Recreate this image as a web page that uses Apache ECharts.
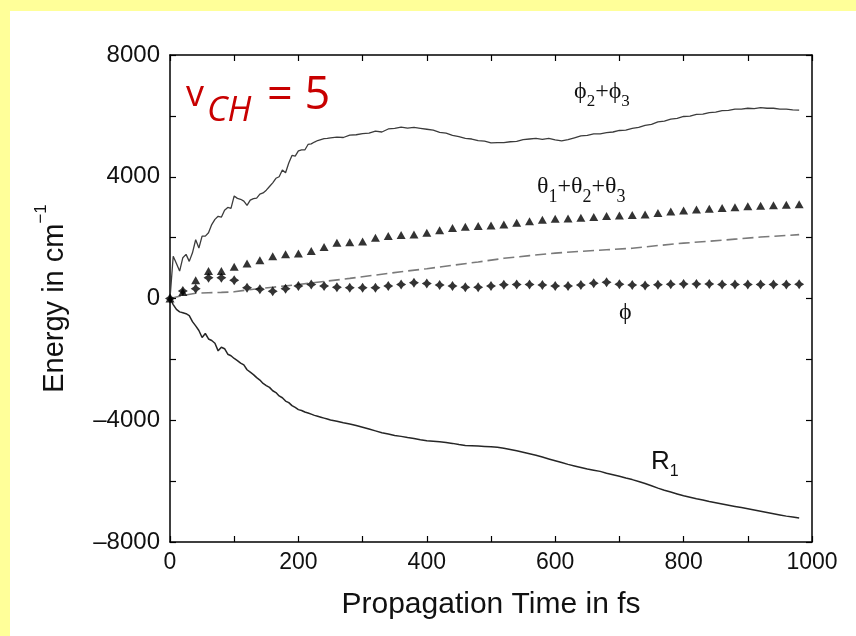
<!DOCTYPE html>
<html><head><meta charset="utf-8">
<script src="https://cdn.jsdelivr.net/npm/echarts@6/dist/echarts.min.js"></script>
<style>
html,body{margin:0;padding:0;background:#ffff99;overflow:hidden;}
#bg{position:absolute;left:10px;top:11px;right:0;bottom:0;background:#ffffff;}
#chart{position:absolute;left:0;top:0;width:856px;height:636px;}
</style></head><body><div id="bg"></div><div id="chart"></div>
<script>
// time grid shared by the two solid curves (fs)
const lineTimes = [0,5,10,15,20,25,30,35,40,45,50,55,60,65,70,75,80,85,90,95,100,105,110,115,120,125,130,135,140,145,150,155,160,165,170,175,180,185,190,195,200,205,210,215,220,225,230,235,240,245,250,
260,270,280,290,300,310,320,330,340,350,360,370,380,390,400,410,420,430,440,450,460,470,480,490,500,510,520,530,540,550,560,570,580,590,600,610,620,630,640,650,660,670,680,690,700,710,720,730,740,750,760,770,780,790,800,810,820,830,840,850,860,870,880,890,900,910,920,930,940,950,960,970,980];
// phi2+phi3 (cm^-1)
const phiSumValues = [0,1390,1150,900,1340,1450,1220,1500,1930,1660,2050,2050,2160,2430,2600,2700,2670,2900,2990,2960,3370,3290,3260,3200,3060,3230,3280,3300,3430,3470,3560,3680,3800,3950,4000,4220,4130,4450,4700,4680,4850,4880,4880,5060,5080,5140,5190,5220,5250,5260,5280,
5300,5290,5370,5380,5420,5430,5500,5470,5570,5590,5630,5600,5620,5590,5560,5530,5460,5430,5360,5320,5260,5240,5190,5170,5110,5120,5120,5150,5160,5220,5240,5260,5230,5260,5210,5180,5220,5280,5340,5360,5410,5410,5450,5470,5520,5530,5590,5620,5690,5720,5800,5830,5890,5920,5980,5990,6050,6060,6110,6120,6170,6180,6220,6220,6250,6240,6270,6250,6250,6220,6220,6200,6190];
// R1 (cm^-1)
const r1Values = [0,-200,-360,-440,-470,-500,-560,-760,-900,-1050,-1280,-1150,-1330,-1380,-1470,-1720,-1600,-1650,-1830,-1880,-1970,-2040,-2120,-2180,-2340,-2420,-2500,-2600,-2680,-2790,-2860,-2920,-3030,-3090,-3200,-3260,-3370,-3420,-3520,-3580,-3650,-3680,-3730,-3760,-3800,-3840,-3870,-3900,-3930,-3960,-3990,
-4030,-4080,-4120,-4170,-4230,-4290,-4350,-4410,-4450,-4500,-4530,-4570,-4600,-4640,-4670,-4690,-4710,-4730,-4760,-4800,-4830,-4840,-4850,-4860,-4870,-4890,-4920,-4960,-5000,-5050,-5100,-5150,-5210,-5270,-5330,-5390,-5450,-5500,-5550,-5600,-5640,-5680,-5740,-5790,-5840,-5900,-5950,-6010,-6080,-6150,-6230,-6300,-6360,-6420,-6480,-6530,-6580,-6620,-6670,-6710,-6750,-6790,-6830,-6870,-6910,-6950,-6990,-7030,-7070,-7110,-7150,-7180,-7210];
// dashed curve
const dashTimes = [0,20,40,60,80,100,120,160,200,240,280,320,360,400,440,480,520,560,600,640,680,720,760,800,840,880,920,960,980];
const dashValues = [0,100,170,190,200,220,280,370,460,560,660,770,880,980,1090,1200,1320,1410,1490,1550,1600,1650,1740,1820,1880,1950,2020,2070,2100];
// marker series (every 20 fs)
const markerTimes = [0,20,40,60,80,100,120,140,160,180,200,220,240,260,280,300,320,340,360,380,400,420,440,460,480,500,520,540,560,580,600,620,640,660,680,700,720,740,760,780,800,820,840,860,880,900,920,940,960,980];
const thetaSumValues = [0,210,600,900,900,1040,1150,1260,1390,1450,1480,1560,1690,1830,1850,1870,2000,2050,2090,2100,2160,2240,2320,2360,2380,2400,2430,2490,2540,2590,2620,2630,2650,2680,2710,2730,2740,2760,2810,2860,2890,2920,2950,2970,3000,3030,3050,3060,3080,3100];
const phiValues = [0,250,320,680,680,600,350,300,240,320,410,460,410,370,350,350,350,410,460,520,490,440,410,370,370,410,450,460,460,440,410,410,440,500,530,470,440,430,450,470,480,480,480,460,460,460,460,460,460,470];
// axis ticks
const xTicks = {min:0, max:1000, interval:200};
const yTicks = {min:-8000, max:8000, interval:4000};

const pairs = (ts, vs) => ts.map((t, i) => [t, vs[i]]);
const SANS = '"Liberation Sans", Arial, Helvetica, sans-serif';
const SERIF = '"Liberation Serif", "DejaVu Serif", "Times New Roman", serif';

const axisBase = {
  type: 'value',
  axisLine: {show: true, onZero: false, lineStyle: {color: '#000', width: 1.5}},
  axisTick: {show: true, inside: true, length: 6, lineStyle: {color: '#000', width: 1.2}},
  minorTick: {show: true, splitNumber: 2, length: 6, lineStyle: {color: '#000', width: 1.2}},
  splitLine: {show: false},
  minorSplitLine: {show: false}
};

const chart = echarts.init(document.getElementById('chart'), null, {renderer: 'canvas'});
const starPath = 'path://M0,-10 L4,-4 L10,0 L4,4 L0,10 L-4,4 L-10,0 L-4,-4 Z';

chart.setOption({
  animation: false,
  backgroundColor: 'transparent',
  grid: {left: 170, right: 44, top: 55, bottom: 94},
  xAxis: [
    Object.assign({}, axisBase, xTicks, {
      position: 'bottom',
      axisLabel: {fontSize: 23, color: '#111', margin: 9, fontFamily: SANS, formatter: v => String(v)},
      name: 'Propagation Time in fs', nameLocation: 'middle', nameGap: 48,
      nameTextStyle: {fontSize: 30, color: '#111', fontFamily: SANS}
    }),
    Object.assign({}, axisBase, xTicks, {position: 'top', axisLabel: {show: false}})
  ],
  yAxis: [
    Object.assign({}, axisBase, yTicks, {
      position: 'left',
      axisLabel: {fontSize: 24, color: '#111', margin: 10, fontFamily: SANS,
        formatter: v => String(v).replace('-', '\u2013')},
      name: '{a|Energy in cm}{b|\u22121}', nameLocation: 'middle', nameRotate: 90, nameGap: 101,
      nameTextStyle: {
        rich: {
          a: {fontSize: 29, color: '#111', fontFamily: SANS, verticalAlign: 'bottom', padding: [7, 0, 0, 0]},
          b: {fontSize: 17, color: '#111', fontFamily: SANS, verticalAlign: 'top'}
        }
      }
    }),
    Object.assign({}, axisBase, yTicks, {position: 'right', axisLabel: {show: false}})
  ],
  series: [
    {type: 'line', data: pairs(lineTimes, phiSumValues), symbol: 'none', smooth: false,
      lineStyle: {color: '#3c3c3c', width: 1.3}, z: 2},
    {type: 'line', data: pairs(lineTimes, r1Values), symbol: 'none',
      lineStyle: {color: '#262626', width: 1.5}, z: 2},
    {type: 'line', data: pairs(dashTimes, dashValues), symbol: 'none',
      lineStyle: {color: '#7a7a7a', width: 1.6, type: [11, 5]}, z: 2},
    {type: 'scatter', data: pairs(markerTimes, thetaSumValues), symbol: 'triangle', symbolSize: [9, 8],
      itemStyle: {color: '#000'}, z: 3},
    {type: 'scatter', data: pairs(markerTimes, phiValues), symbol: starPath, symbolSize: 10,
      itemStyle: {color: '#000'}, z: 3}
  ],
  graphic: [
    {type: 'text', x: 186, y: 96, style: {text: 'v', font: '36px "Open Sans", sans-serif', fill: '#c80000', verticalAlign: 'middle'}},
    {type: 'text', x: 207, y: 111, style: {text: 'CH', font: 'italic 35px "Open Sans", sans-serif', fill: '#c80000', verticalAlign: 'middle'}},
    {type: 'text', x: 267, y: 96, style: {text: '= 5', font: '45px "Open Sans", sans-serif', fill: '#c80000', verticalAlign: 'middle'}},
    {type: 'text', x: 574, y: 80, style: {text: '{m|\u03D5}{s|2}{m|+\u03D5}{s|3}', verticalAlign: 'top',
      rich: {m: {fontSize: 24, fontFamily: SERIF, fill: '#111', verticalAlign: 'top', lineHeight: 24},
             s: {fontSize: 17, fontFamily: SERIF, fill: '#111', verticalAlign: 'top', lineHeight: 17, padding: [13, 0, 0, 0]}}}},
    {type: 'text', x: 537, y: 175, style: {text: '{m|\u03B8}{s|1}{m|+\u03B8}{s|2}{m|+\u03B8}{s|3}', verticalAlign: 'top',
      rich: {m: {fontSize: 24, fontFamily: SERIF, fill: '#111', verticalAlign: 'top', lineHeight: 24},
             s: {fontSize: 18, fontFamily: SERIF, fill: '#111', verticalAlign: 'top', lineHeight: 18, padding: [13, 0, 0, 0]}}}},
    {type: 'text', x: 619, y: 301, style: {text: '\u03D5', font: '24px ' + SERIF, fill: '#111', verticalAlign: 'top'}},
    {type: 'text', x: 651, y: 449, style: {text: '{m|R}{s|1}', verticalAlign: 'top',
      rich: {m: {fontSize: 26, fontFamily: SANS, fill: '#111', verticalAlign: 'top', lineHeight: 26},
             s: {fontSize: 16, fontFamily: SANS, fill: '#111', verticalAlign: 'top', lineHeight: 16, padding: [15, 0, 0, 0]}}}}
  ]
});
</script></body></html>
